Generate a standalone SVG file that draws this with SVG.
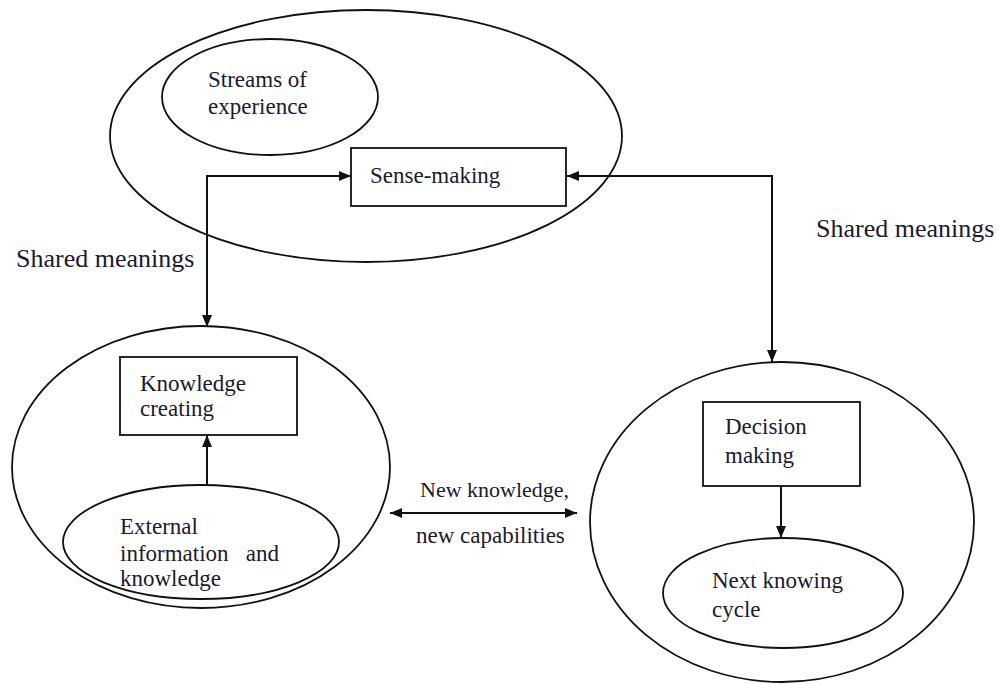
<svg xmlns="http://www.w3.org/2000/svg" width="1002" height="684" viewBox="0 0 1002 684">
<style>
.sh{fill:none;stroke:#111;stroke-width:1.8}
.box{fill:#fff;stroke:#111;stroke-width:1.8}
.ln{fill:none;stroke:#111;stroke-width:2}
text{font-family:'Liberation Serif','DejaVu Serif',serif;font-size:23px;fill:#1a1a2e}
.sm{font-size:26px}
.nk{font-size:22px}
</style>
<defs>
<marker id="ah" viewBox="0 0 12 10" refX="12" refY="5" markerWidth="12" markerHeight="10" markerUnits="userSpaceOnUse" orient="auto-start-reverse">
<path d="M0,0 L12,5 L0,10 Z" fill="#111"/>
</marker>
</defs>
<rect width="1002" height="684" fill="#fff"/>
<g id="sense-cluster">
<ellipse class="sh" cx="366" cy="136" rx="256" ry="126"/>
</g>
<g id="streams">
<ellipse class="sh" cx="270" cy="97" rx="108" ry="58"/>
<text x="208" y="87">Streams of</text>
<text x="208" y="114">experience</text>
</g>
<g id="sense-making">
<rect class="box" x="351" y="148" width="215" height="58"/>
<text x="370" y="183">Sense-making</text>
</g>
<g id="knowledge-cluster">
<ellipse class="sh" cx="201" cy="467" rx="189" ry="141"/>
</g>
<g id="knowledge-creating">
<rect class="box" x="120" y="357" width="177" height="78"/>
<text x="140" y="391">Knowledge</text>
<text x="140" y="416">creating</text>
</g>
<g id="external">
<ellipse class="sh" cx="201" cy="542" rx="138" ry="57"/>
<text x="120" y="534">External</text>
<text x="120" y="561" xml:space="preserve">information   and</text>
<text x="120" y="586">knowledge</text>
</g>
<g id="decision-cluster">
<ellipse class="sh" cx="782" cy="522" rx="192" ry="160"/>
</g>
<g id="decision-making">
<rect class="box" x="703" y="402" width="157" height="84"/>
<text x="725" y="434">Decision</text>
<text x="725" y="463">making</text>
</g>
<g id="next-cycle">
<ellipse class="sh" cx="783" cy="593" rx="120" ry="55"/>
<text x="712" y="588">Next knowing</text>
<text x="712" y="617">cycle</text>
</g>
<g id="connectors">
<path class="ln" d="M351,176 L207,176 L207,327" marker-start="url(#ah)" marker-end="url(#ah)"/>
<path class="ln" d="M567,176 L772,176 L772,362" marker-start="url(#ah)" marker-end="url(#ah)"/>
<path class="ln" d="M390,513 L577,513" marker-start="url(#ah)" marker-end="url(#ah)"/>
<path class="ln" d="M207,485 L207,435" marker-end="url(#ah)"/>
<path class="ln" d="M781,486 L781,538" marker-end="url(#ah)"/>
</g>
<g id="labels">
<text class="sm" x="16" y="267">Shared meanings</text>
<text class="sm" x="816" y="237">Shared meanings</text>
<text class="nk" x="420" y="497">New knowledge,</text>
<text x="416" y="543">new capabilities</text>
</g>
</svg>
